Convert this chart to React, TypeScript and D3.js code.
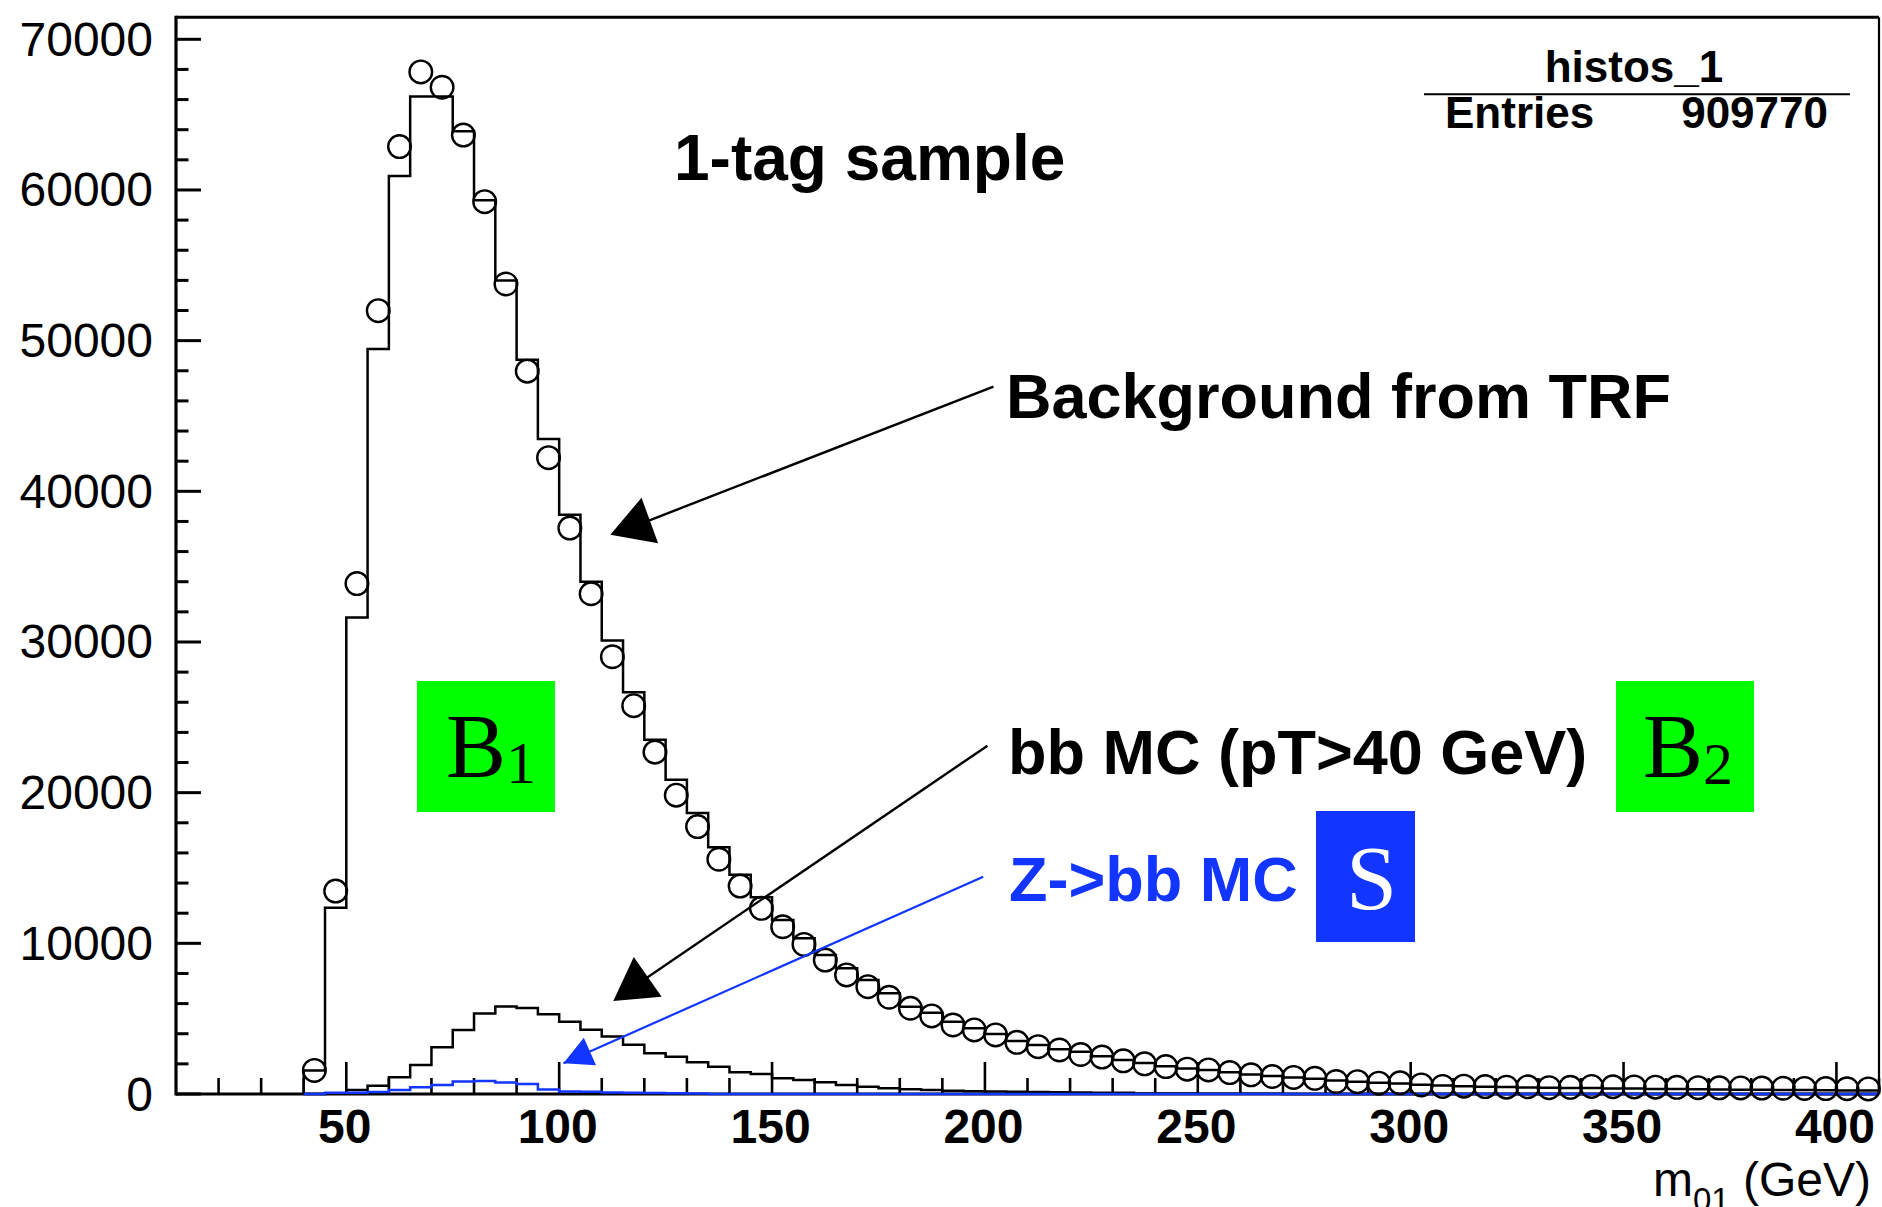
import React from 'react';
import * as d3 from 'd3';

// ---------- data (bins of 5 GeV starting at 40 GeV) ----------
const BIN_START = 40;
const BIN_WIDTH = 5;

// open circles: 1-tag data
const dataPoints = [
  1566, 13466, 33876, 51988, 62880, 67836, 66817, 63643, 59222, 53760,
  47971, 42231, 37559, 33200, 29020, 25770, 22690, 19830, 17750, 15580,
  13800, 12320, 11100, 9930, 8890, 7900, 7120, 6420, 5690, 5180,
  4580, 4250, 3920, 3430, 3140, 2920, 2620, 2450, 2200, 2000,
  1820, 1650, 1600, 1420, 1270, 1160, 1100, 1040, 830, 820,
  720, 740, 600, 500, 520, 490, 450, 480, 420, 440,
  500, 480, 470, 450, 440, 420, 410, 400, 390, 380,
  370, 360, 350, 340,
];

// black histogram: background from TRF
const trfBackground = [
  1566, 12358, 31632, 49446, 60928, 66211, 66211, 63899, 59325, 53992,
  48735, 43473, 38449, 34000, 30100, 26670, 23515, 20850, 18650, 16373,
  14556, 13055, 11548, 10334, 9226, 8343, 7566, 6683, 5797, 5399,
  4800, 4358, 3982, 3518, 3252, 2964, 2810, 2500, 2250, 2050,
  1850, 1700, 1600, 1450, 1300, 1200, 1100, 1020, 900, 820,
  740, 700, 620, 560, 520, 480, 460, 430, 420, 400,
  390, 370, 360, 340, 330, 320, 300, 290, 280, 270,
  260, 250, 240, 230,
];

// black histogram: bb MC (pT>40 GeV)
const bbMC = [
  0, 40, 265, 553, 1106, 1925, 3097, 4248, 5343, 5807,
  5707, 5296, 4790, 4258, 3820, 3270, 2700, 2470, 2100, 1814,
  1438, 1327, 1040, 929, 774, 597, 487, 376, 310, 265,
  221, 190, 170, 150, 130, 115, 100, 90, 80, 40,
  30, 25, 20, 15, 12, 10, 8, 6, 5, 4,
  3, 2, 2, 1, 1, 1, 0, 0, 0, 0,
  0, 0, 0, 0, 0, 0, 0, 0, 0, 0,
  0, 0, 0, 0,
];

// blue histogram: Z->bb MC
const zbbMC = [
  0, 88, 88, 130, 265, 442, 597, 830, 870, 760,
  660, 300, 160, 150, 100, 80, 60, 50, 40, 0,
  0, 0, 0, 0, 0, 0, 0, 0, 0, 0,
  0, 0, 0, 0, 0, 0, 0, 0, 0, 0,
  0, 0, 0, 0, 0, 0, 0, 0, 0, 0,
  0, 0, 0, 0, 0, 0, 0, 0, 0, 0,
  0, 0, 0, 0, 0, 0, 0, 0, 0, 0,
  0, 0, 0, 0,
];

const xDomain = [10, 410];
const yDomain = [0, 71460];
const xMajorTicks = [50, 100, 150, 200, 250, 300, 350, 400];
const yMajorTicks = [0, 10000, 20000, 30000, 40000, 50000, 60000, 70000];
const xTickLabels = ['50', '100', '150', '200', '250', '300', '350', '400'];
const yTickLabels = ['0', '10000', '20000', '30000', '40000', '50000', '60000', '70000'];

// annotation arrows in data coordinates: [xStart, yStart, xEnd, yEnd]
const bgArrow = [202.0, 46944, 118.2, 37745];
const bbArrow = [200.6, 23117, 118.1, 7240];
const zArrow = [199.6, 14422, 101.0, 2038];

const W = 1882;
const H = 1207;
const FR = { left: 176, right: 1879, top: 17.3, bottom: 1094 };
const SANS = '"Liberation Sans", Arial, Helvetica, sans-serif';
const SERIF = '"Liberation Serif", "Times New Roman", serif';
const BLUE = '#1235ff';
const GREEN = '#00ff00';

function stepPoints(values: number[]): [number, number][] {
  const pts: [number, number][] = [[BIN_START, 0]];
  values.forEach((v, i) => pts.push([BIN_START + i * BIN_WIDTH, v]));
  pts.push([BIN_START + values.length * BIN_WIDTH, values[values.length - 1]]);
  return pts;
}

function triangle(cx: number, cy: number, r: number, rotDeg: number): string {
  const pts: string[] = [];
  for (let k = 0; k < 3; k++) {
    const a = ((rotDeg + k * 120) * Math.PI) / 180;
    pts.push(`${cx + r * Math.sin(a)},${cy - r * Math.cos(a)}`);
  }
  return pts.join(' ');
}

export default function App() {
  const x = d3.scaleLinear().domain(xDomain).range([FR.left, FR.right]);
  const y = d3.scaleLinear().domain(yDomain).range([FR.bottom, FR.top]);

  const line = d3
    .line<[number, number]>()
    .x((d) => x(d[0]))
    .y((d) => y(d[1]))
    .curve(d3.curveStepAfter);

  const xMinor = d3.range(20, 411, 10).filter((v) => v % 50 !== 0);
  const yMinor = d3.range(0, 70001, 2000).filter((v) => v % 10000 !== 0);

  const arrowLine = (a: number[], color: string, w: number) => (
    <line x1={x(a[0])} y1={y(a[1])} x2={x(a[2])} y2={y(a[3])} stroke={color} strokeWidth={w} />
  );

  // blue arrow head
  const zx1 = x(zArrow[0]), zy1 = y(zArrow[1]), zx2 = x(zArrow[2]), zy2 = y(zArrow[3]);
  const zl = Math.hypot(zx1 - zx2, zy1 - zy2);
  const ux = (zx1 - zx2) / zl, uy = (zy1 - zy2) / zl;
  const headL = 29, headW = 15;
  const bxm = zx2 + ux * headL, bym = zy2 + uy * headL;
  const zHead = `${zx2},${zy2} ${bxm - uy * headW},${bym + ux * headW} ${bxm + uy * headW},${bym - ux * headW}`;

  return (
    <svg
      width={W}
      height={H}
      viewBox={`0 0 ${W} ${H}`}
      style={{ position: 'absolute', left: 0, top: 0, display: 'block', background: '#fff' }}
    >
      <rect x={0} y={0} width={W} height={H} fill="#fff" />

      {/* histograms */}
      <path d={line(stepPoints(trfBackground)) || ''} fill="none" stroke="#000" strokeWidth={2.5} />
      <path d={line(stepPoints(bbMC)) || ''} fill="none" stroke="#000" strokeWidth={2.5} />

      {/* frame / axes */}
      <line x1={FR.left} y1={FR.top} x2={FR.right} y2={FR.top} stroke="#000" strokeWidth={3} />
      <line x1={FR.right} y1={FR.top} x2={FR.right} y2={FR.bottom} stroke="#000" strokeWidth={2.2} />
      <line x1={FR.left} y1={FR.top - 1.5} x2={FR.left} y2={FR.bottom + 1.5} stroke="#000" strokeWidth={3.2} />
      <line x1={FR.left} y1={FR.bottom} x2={FR.right} y2={FR.bottom} stroke="#000" strokeWidth={3.2} />

      {yMajorTicks.map((v) => (
        <line key={'ym' + v} x1={FR.left} x2={FR.left + 25} y1={y(v)} y2={y(v)} stroke="#000" strokeWidth={3} />
      ))}
      {yMinor.map((v) => (
        <line key={'yn' + v} x1={FR.left} x2={FR.left + 12.5} y1={y(v)} y2={y(v)} stroke="#000" strokeWidth={3} />
      ))}
      {xMajorTicks.map((v) => (
        <line key={'xm' + v} x1={x(v)} x2={x(v)} y1={FR.bottom} y2={FR.bottom - 32} stroke="#000" strokeWidth={2.6} />
      ))}
      {xMinor.map((v) => (
        <line key={'xn' + v} x1={x(v)} x2={x(v)} y1={FR.bottom} y2={FR.bottom - 16} stroke="#000" strokeWidth={2.6} />
      ))}

      {yMajorTicks.map((v, i) => (
        <text key={'yl' + v} x={153} y={y(v) + 16.5} textAnchor="end" fontFamily={SANS} fontSize={48} fill="#000">
          {yTickLabels[i]}
        </text>
      ))}
      {xMajorTicks.map((v, i) => (
        <text key={'xl' + v} x={x(v) - 1.5} y={1143} textAnchor="middle" fontFamily={SANS} fontWeight="bold" fontSize={48} fill="#000">
          {xTickLabels[i]}
        </text>
      ))}

      {/* x axis title */}
      <text x={1871} y={1196} textAnchor="end" fontFamily={SANS} fontSize={48} fill="#000">
        m
        <tspan fontSize={33} dy={15}>01</tspan>
        <tspan dy={-15}> (GeV)</tspan>
      </text>

      {/* blue histogram on top of the axis */}
      <path d={line(stepPoints(zbbMC)) || ''} fill="none" stroke={BLUE} strokeWidth={2.5} />

      {/* data points */}
      {dataPoints.map((v, i) => (
        <circle
          key={'c' + i}
          cx={x(BIN_START + (i + 0.5) * BIN_WIDTH)}
          cy={y(v)}
          r={11.3}
          fill="none"
          stroke="#000"
          strokeWidth={2.4}
        />
      ))}

      {/* stats box */}
      <text x={1634} y={81.7} textAnchor="middle" fontFamily={SANS} fontWeight="bold" fontSize={44} fill="#000">
        histos_1
      </text>
      <line x1={1424} x2={1850} y1={94.3} y2={94.3} stroke="#000" strokeWidth={2} />
      <text x={1445} y={128.3} fontFamily={SANS} fontWeight="bold" fontSize={44} fill="#000">
        Entries
      </text>
      <text x={1828} y={128.3} textAnchor="end" fontFamily={SANS} fontWeight="bold" fontSize={44} fill="#000">
        909770
      </text>

      {/* labels */}
      <text x={674} y={180} fontFamily={SANS} fontWeight="bold" fontSize={64} fill="#000">
        1-tag sample
      </text>
      <text x={1006} y={418.3} fontFamily={SANS} fontWeight="bold" fontSize={63} fill="#000">
        Background from TRF
      </text>
      <text x={1008} y={774} fontFamily={SANS} fontWeight="bold" fontSize={63} fill="#000">
        bb MC (pT&gt;40 GeV)
      </text>
      <text x={1009} y={901} fontFamily={SANS} fontWeight="bold" fontSize={63} fill={BLUE}>
        Z-&gt;bb MC
      </text>

      {/* arrows */}
      {arrowLine(bgArrow, '#000', 2.4)}
      <polygon points={triangle(x(bgArrow[2]), y(bgArrow[3]), 28, 10)} fill="#000" />
      {arrowLine(bbArrow, '#000', 2.4)}
      <polygon points={triangle(x(bbArrow[2]), y(bbArrow[3]), 28, -5)} fill="#000" />
      {arrowLine(zArrow, BLUE, 2.2)}
      <polygon points={zHead} fill={BLUE} />

      {/* B1 box */}
      <rect x={417} y={681} width={138} height={131} fill={GREEN} />
      <text x={446} y={777} fontFamily={SERIF} fontSize={90} fill="#000">
        B<tspan fontSize={60} dy={6}>1</tspan>
      </text>

      {/* B2 box */}
      <rect x={1616} y={681} width={138} height={131} fill={GREEN} />
      <text x={1643} y={777} fontFamily={SERIF} fontSize={90} fill="#000">
        B<tspan fontSize={60} dy={7}>2</tspan>
      </text>

      {/* S box */}
      <rect x={1316} y={811} width={99} height={131} fill={BLUE} />
      <text x={1346} y={909} fontFamily={SERIF} fontSize={92} fill="#fff">
        S
      </text>
    </svg>
  );
}
